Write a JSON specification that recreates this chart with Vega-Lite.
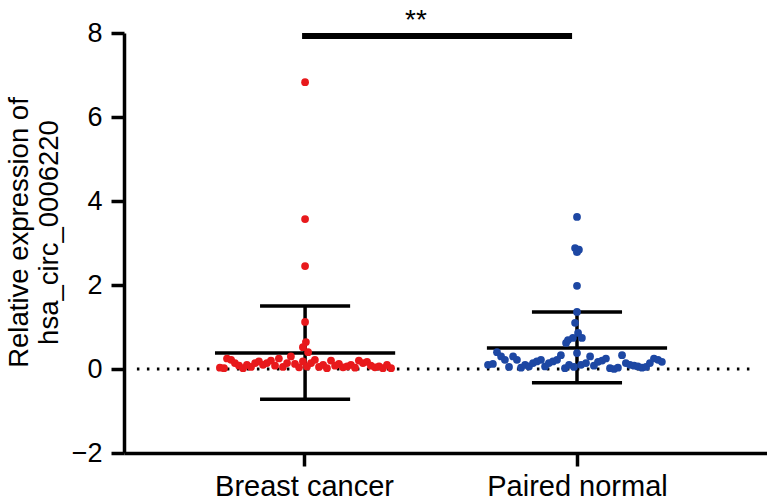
{
  "$schema": "https://vega.github.io/schema/vega-lite/v6.json",
  "width": 643,
  "height": 420,
  "autosize": {"type": "none"},
  "padding": {"left": 124, "top": 33, "right": 0, "bottom": 51},
  "background": "white",
  "config": {
    "view": {"stroke": null},
    "font": "Liberation Sans",
    "axis": {"grid": false, "domainColor": "black", "tickColor": "black", "labelColor": "black", "titleColor": "black", "domainWidth": 3.5, "tickWidth": 3.5, "tickSize": 13, "labelFont": "Liberation Sans", "titleFont": "Liberation Sans", "labelFontSize": 27, "titleFontSize": 27.5, "titleFontWeight": "normal", "labelLimit": 400}
  },
  "datasets": {
    "points": [
      {"group": "Breast cancer", "x": 0.692, "value": 0.03},
      {"group": "Breast cancer", "x": 0.707, "value": 0.02},
      {"group": "Breast cancer", "x": 0.718, "value": 0.25},
      {"group": "Breast cancer", "x": 0.733, "value": 0.22},
      {"group": "Breast cancer", "x": 0.747, "value": 0.14},
      {"group": "Breast cancer", "x": 0.762, "value": 0.08},
      {"group": "Breast cancer", "x": 0.777, "value": 0.02},
      {"group": "Breast cancer", "x": 0.791, "value": 0.10},
      {"group": "Breast cancer", "x": 0.806, "value": 0.05},
      {"group": "Breast cancer", "x": 0.821, "value": 0.14},
      {"group": "Breast cancer", "x": 0.835, "value": 0.18},
      {"group": "Breast cancer", "x": 0.850, "value": 0.10},
      {"group": "Breast cancer", "x": 0.864, "value": 0.14},
      {"group": "Breast cancer", "x": 0.879, "value": 0.20},
      {"group": "Breast cancer", "x": 0.894, "value": 0.08},
      {"group": "Breast cancer", "x": 0.908, "value": 0.25},
      {"group": "Breast cancer", "x": 0.923, "value": 0.05},
      {"group": "Breast cancer", "x": 0.938, "value": 0.14},
      {"group": "Breast cancer", "x": 0.952, "value": 0.30},
      {"group": "Breast cancer", "x": 0.967, "value": 0.12},
      {"group": "Breast cancer", "x": 0.982, "value": 0.04},
      {"group": "Breast cancer", "x": 0.996, "value": 0.18},
      {"group": "Breast cancer", "x": 1.011, "value": 0.06},
      {"group": "Breast cancer", "x": 1.026, "value": 0.14},
      {"group": "Breast cancer", "x": 1.040, "value": 0.22},
      {"group": "Breast cancer", "x": 1.055, "value": 0.05},
      {"group": "Breast cancer", "x": 1.070, "value": 0.10},
      {"group": "Breast cancer", "x": 1.084, "value": 0.02},
      {"group": "Breast cancer", "x": 1.099, "value": 0.20},
      {"group": "Breast cancer", "x": 1.114, "value": 0.08},
      {"group": "Breast cancer", "x": 1.128, "value": 0.12},
      {"group": "Breast cancer", "x": 1.143, "value": 0.04},
      {"group": "Breast cancer", "x": 1.158, "value": 0.06},
      {"group": "Breast cancer", "x": 1.172, "value": 0.10},
      {"group": "Breast cancer", "x": 1.187, "value": 0.03},
      {"group": "Breast cancer", "x": 1.201, "value": 0.20},
      {"group": "Breast cancer", "x": 1.216, "value": 0.14},
      {"group": "Breast cancer", "x": 1.231, "value": 0.17},
      {"group": "Breast cancer", "x": 1.245, "value": 0.08},
      {"group": "Breast cancer", "x": 1.260, "value": 0.04},
      {"group": "Breast cancer", "x": 1.275, "value": 0.06},
      {"group": "Breast cancer", "x": 1.289, "value": 0.02},
      {"group": "Breast cancer", "x": 1.304, "value": 0.10},
      {"group": "Breast cancer", "x": 1.319, "value": 0.02},
      {"group": "Breast cancer", "x": 1.004, "value": 6.83},
      {"group": "Breast cancer", "x": 1.004, "value": 3.57},
      {"group": "Breast cancer", "x": 1.004, "value": 2.45},
      {"group": "Breast cancer", "x": 1.004, "value": 1.12},
      {"group": "Breast cancer", "x": 1.007, "value": 0.64},
      {"group": "Breast cancer", "x": 0.996, "value": 0.52},
      {"group": "Breast cancer", "x": 1.015, "value": 0.40},
      {"group": "Paired normal", "x": 1.674, "value": 0.10},
      {"group": "Paired normal", "x": 1.692, "value": 0.12},
      {"group": "Paired normal", "x": 1.707, "value": 0.40},
      {"group": "Paired normal", "x": 1.722, "value": 0.30},
      {"group": "Paired normal", "x": 1.736, "value": 0.22},
      {"group": "Paired normal", "x": 1.751, "value": 0.05},
      {"group": "Paired normal", "x": 1.766, "value": 0.30},
      {"group": "Paired normal", "x": 1.780, "value": 0.22},
      {"group": "Paired normal", "x": 1.795, "value": 0.03},
      {"group": "Paired normal", "x": 1.810, "value": 0.10},
      {"group": "Paired normal", "x": 1.824, "value": 0.06},
      {"group": "Paired normal", "x": 1.839, "value": 0.14},
      {"group": "Paired normal", "x": 1.853, "value": 0.18},
      {"group": "Paired normal", "x": 1.868, "value": 0.22},
      {"group": "Paired normal", "x": 1.883, "value": 0.06},
      {"group": "Paired normal", "x": 1.897, "value": 0.14},
      {"group": "Paired normal", "x": 1.912, "value": 0.18},
      {"group": "Paired normal", "x": 1.927, "value": 0.22},
      {"group": "Paired normal", "x": 1.941, "value": 0.33},
      {"group": "Paired normal", "x": 1.956, "value": 0.02},
      {"group": "Paired normal", "x": 1.971, "value": 0.10},
      {"group": "Paired normal", "x": 1.989, "value": 0.05},
      {"group": "Paired normal", "x": 2.000, "value": 0.38},
      {"group": "Paired normal", "x": 2.015, "value": 0.10},
      {"group": "Paired normal", "x": 2.033, "value": 0.14},
      {"group": "Paired normal", "x": 2.048, "value": 0.30},
      {"group": "Paired normal", "x": 2.062, "value": 0.08},
      {"group": "Paired normal", "x": 2.077, "value": 0.17},
      {"group": "Paired normal", "x": 2.092, "value": 0.20},
      {"group": "Paired normal", "x": 2.106, "value": 0.25},
      {"group": "Paired normal", "x": 2.121, "value": 0.02},
      {"group": "Paired normal", "x": 2.136, "value": 0.00},
      {"group": "Paired normal", "x": 2.150, "value": 0.03},
      {"group": "Paired normal", "x": 2.165, "value": 0.33},
      {"group": "Paired normal", "x": 2.179, "value": 0.14},
      {"group": "Paired normal", "x": 2.194, "value": 0.10},
      {"group": "Paired normal", "x": 2.209, "value": 0.08},
      {"group": "Paired normal", "x": 2.223, "value": 0.06},
      {"group": "Paired normal", "x": 2.238, "value": 0.03},
      {"group": "Paired normal", "x": 2.253, "value": 0.05},
      {"group": "Paired normal", "x": 2.267, "value": 0.14},
      {"group": "Paired normal", "x": 2.282, "value": 0.25},
      {"group": "Paired normal", "x": 2.297, "value": 0.22},
      {"group": "Paired normal", "x": 2.311, "value": 0.17},
      {"group": "Paired normal", "x": 2.000, "value": 3.62},
      {"group": "Paired normal", "x": 1.993, "value": 2.88},
      {"group": "Paired normal", "x": 2.007, "value": 2.84},
      {"group": "Paired normal", "x": 2.000, "value": 2.78},
      {"group": "Paired normal", "x": 2.000, "value": 1.98},
      {"group": "Paired normal", "x": 2.000, "value": 1.36},
      {"group": "Paired normal", "x": 1.993, "value": 1.10},
      {"group": "Paired normal", "x": 2.004, "value": 0.86},
      {"group": "Paired normal", "x": 1.985, "value": 0.74},
      {"group": "Paired normal", "x": 1.967, "value": 0.69},
      {"group": "Paired normal", "x": 2.018, "value": 0.74},
      {"group": "Paired normal", "x": 1.960, "value": 0.62}
    ],
    "summary": [
      {"group": "Breast cancer", "cx": 1.004, "mean": 0.38, "lo": -0.72, "hi": 1.5, "m1": 0.674, "m2": 1.334, "c1": 0.839, "c2": 1.169},
      {"group": "Paired normal", "cx": 2.0, "mean": 0.5, "lo": -0.33, "hi": 1.36, "m1": 1.67, "m2": 2.33, "c1": 1.835, "c2": 2.165}
    ],
    "zero": [{"x1": 0.388, "x2": 2.634, "y": 0}],
    "sig": [{"x1": 0.993, "x2": 1.982, "y": 7.93, "tx": 1.41, "ty": 8.28, "label": "**"}]
  },
  "layer": [
    {
      "data": {"name": "zero"},
      "mark": {"type": "rule", "strokeDash": [2.5, 7.5], "strokeWidth": 3, "color": "black", "strokeCap": "butt"},
      "encoding": {
        "x": {"field": "x1", "type": "quantitative", "scale": {"domain": [0.3407, 2.696], "nice": false, "zero": false},
          "axis": {"values": [1, 2], "labelExpr": "datum.value == 1 ? 'Breast cancer' : 'Paired normal'", "title": null, "labelPadding": 6, "labelFontSize": 29}},
        "x2": {"field": "x2"},
        "y": {"field": "y", "type": "quantitative", "scale": {"domain": [-2, 8], "nice": false, "zero": false},
          "axis": {"values": [-2, 0, 2, 4, 6, 8], "labelExpr": "datum.value < 0 ? '\u2212' + abs(datum.value) : datum.label", "title": ["Relative expression of", "hsa_circ_0006220"], "labelPadding": 9, "titlePadding": 8, "titleLineHeight": 30, "titleY": 199}}
      }
    },
    {
      "data": {"name": "summary"},
      "mark": {"type": "rule", "strokeWidth": 3.5, "color": "black"},
      "encoding": {
        "x": {"field": "cx", "type": "quantitative"},
        "y": {"field": "lo", "type": "quantitative"},
        "y2": {"field": "hi"}
      }
    },
    {
      "data": {"name": "summary"},
      "mark": {"type": "rule", "strokeWidth": 3.5, "color": "black"},
      "encoding": {
        "x": {"field": "m1", "type": "quantitative"},
        "x2": {"field": "m2"},
        "y": {"field": "mean", "type": "quantitative"}
      }
    },
    {
      "data": {"name": "summary"},
      "mark": {"type": "rule", "strokeWidth": 3.5, "color": "black"},
      "encoding": {
        "x": {"field": "c1", "type": "quantitative"},
        "x2": {"field": "c2"},
        "y": {"field": "hi", "type": "quantitative"}
      }
    },
    {
      "data": {"name": "summary"},
      "mark": {"type": "rule", "strokeWidth": 3.5, "color": "black"},
      "encoding": {
        "x": {"field": "c1", "type": "quantitative"},
        "x2": {"field": "c2"},
        "y": {"field": "lo", "type": "quantitative"}
      }
    },
    {
      "data": {"name": "points"},
      "mark": {"type": "circle", "size": 60, "opacity": 1},
      "encoding": {
        "x": {"field": "x", "type": "quantitative"},
        "y": {"field": "value", "type": "quantitative"},
        "color": {"field": "group", "type": "nominal", "scale": {"domain": ["Breast cancer", "Paired normal"], "range": ["#e8191c", "#1d47a3"]}, "legend": null}
      }
    },
    {
      "data": {"name": "sig"},
      "mark": {"type": "rule", "strokeWidth": 6, "color": "black"},
      "encoding": {
        "x": {"field": "x1", "type": "quantitative"},
        "x2": {"field": "x2"},
        "y": {"field": "y", "type": "quantitative"}
      }
    },
    {
      "data": {"name": "sig"},
      "mark": {"type": "text", "fontSize": 28, "color": "black", "baseline": "middle", "align": "center"},
      "encoding": {
        "x": {"field": "tx", "type": "quantitative"},
        "y": {"field": "ty", "type": "quantitative"},
        "text": {"field": "label"}
      }
    }
  ]
}
